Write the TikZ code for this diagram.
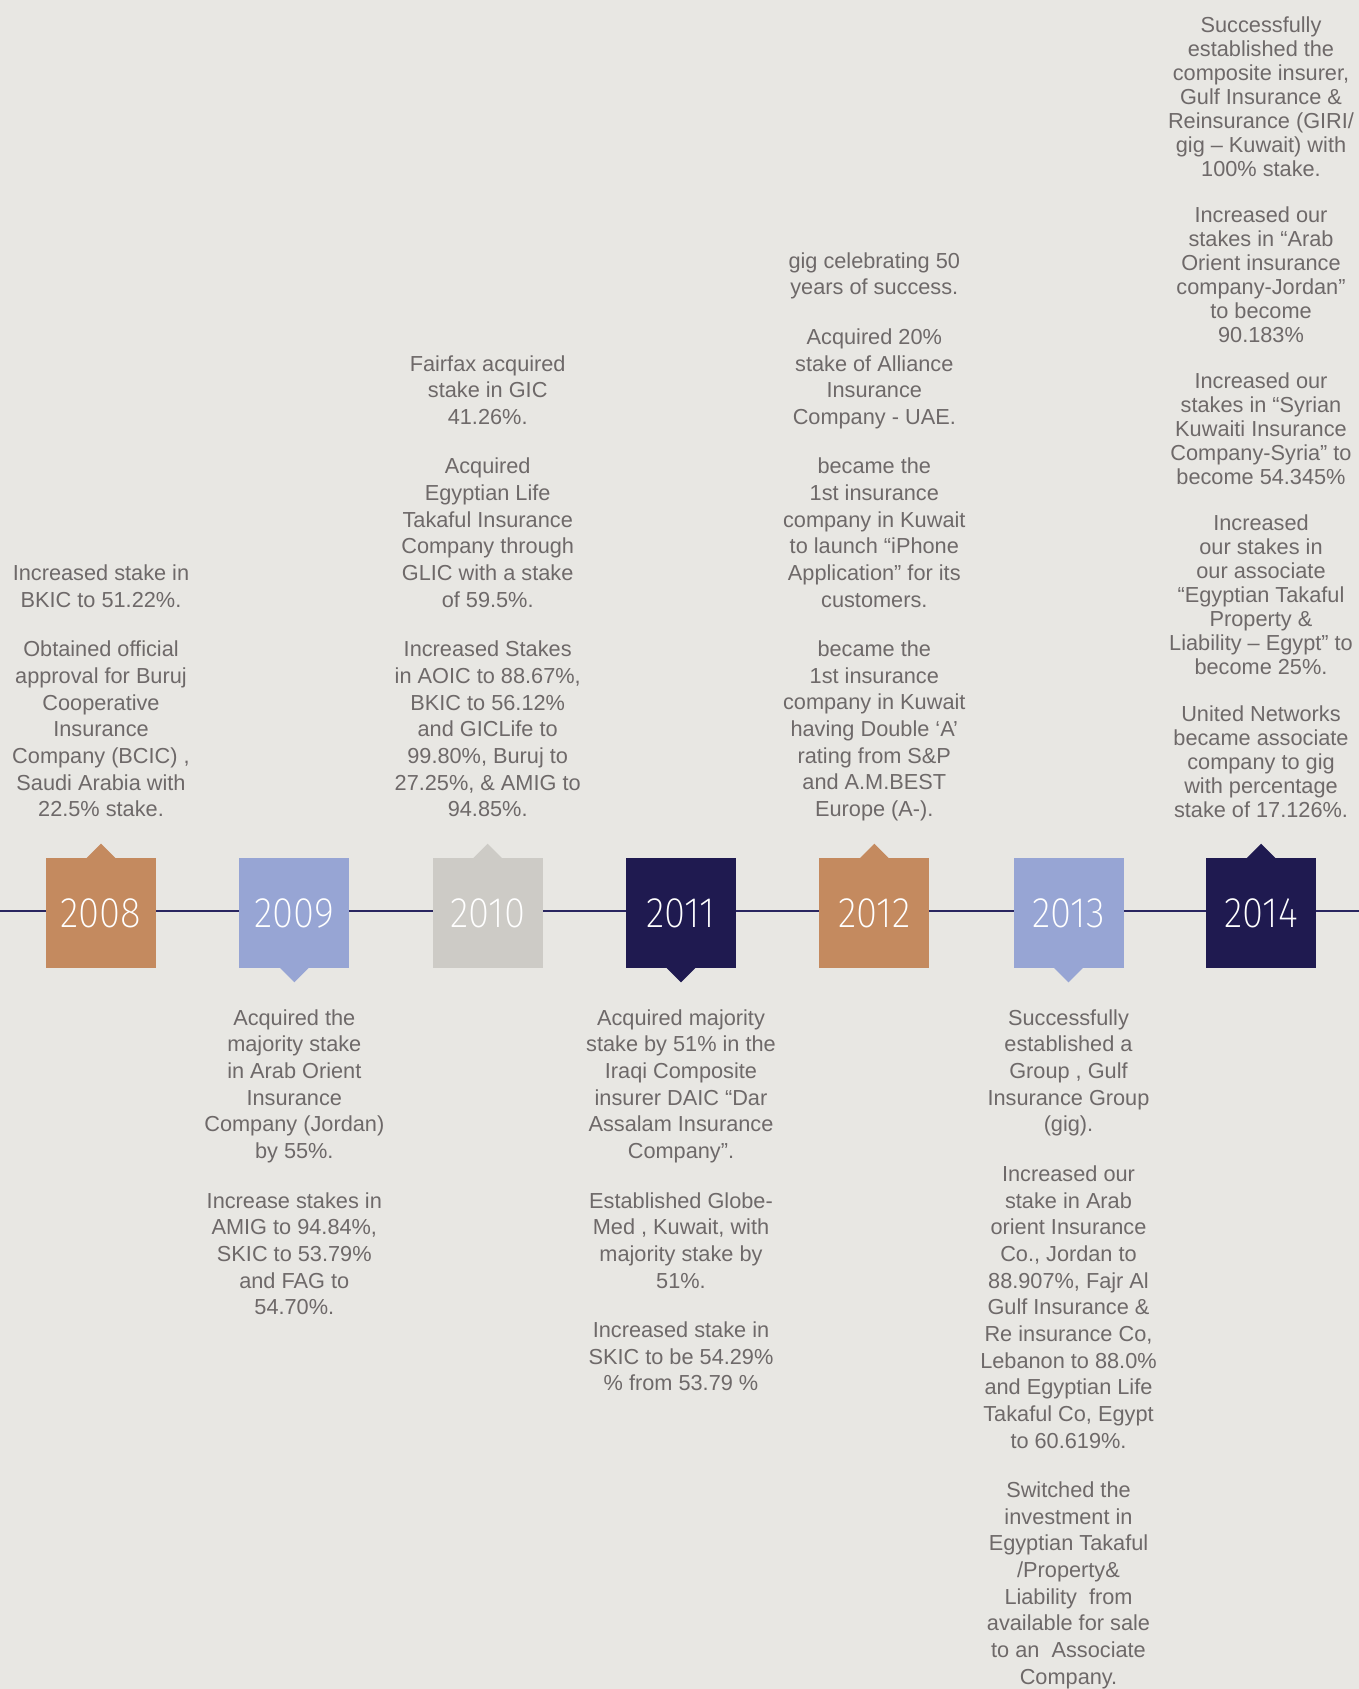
\documentclass[tikz,border=0pt]{standalone}
\usepackage{fontspec}
\setmainfont{Liberation Sans}
\newfontfamily\yearfont{Fira Sans ExtraLight}
\usepackage{graphicx}
\definecolor{bg}{RGB}{232,231,227}
\definecolor{tanc}{RGB}{196,138,95}
\definecolor{lavc}{RGB}{151,165,212}
\definecolor{stonec}{RGB}{205,203,198}
\definecolor{navyc}{RGB}{31,26,80}
\definecolor{linec}{RGB}{42,38,96}
\definecolor{txtc}{RGB}{110,105,105}
\begin{document}
\begin{tikzpicture}[x=0.75pt,y=-0.75pt,
  yearbox/.style={minimum width=82.5pt,minimum height=82.5pt,inner sep=0pt,text=white,
    font=\yearfont\fontsize{32}{32}\selectfont},
  desc/.style={inner sep=0pt,align=center,text=txtc,font=\fontsize{16.3}{20}\selectfont},
  desctight/.style={inner sep=0pt,align=center,text=txtc,font=\fontsize{16.3}{18}\selectfont}]
\fill[bg] (0,0) rectangle (1359,1689);
\useasboundingbox (0,0) rectangle (1359,1689);

\coordinate (L) at (0,911);
\coordinate (R) at (1359,911);
\draw[linec,line width=2.2pt] (L) -- (R);

\newcommand{\yr}[1]{\scalebox{0.9}[1]{#1}}
\node[yearbox,fill=tanc]   (y08) at (101,913)    {\yr{2008}};
\node[yearbox,fill=lavc]   (y09) at (294.3,913)  {\yr{2009}};
\node[yearbox,fill=stonec] (y10) at (487.7,913)  {\yr{2010}};
\node[yearbox,fill=navyc]  (y11) at (681,913)    {\yr{2011}};
\node[yearbox,fill=tanc]   (y12) at (874.3,913)  {\yr{2012}};
\node[yearbox,fill=lavc]   (y13) at (1068.5,913) {\yr{2013}};
\node[yearbox,fill=navyc]  (y14) at (1261,913)   {\yr{2014}};

% pointers up
\fill[tanc]   (y08.north) ++(-14.5,0.5) -- ++(14.5,-14.5) -- ++(14.5,14.5) -- cycle;
\fill[stonec] (y10.north) ++(-14.5,0.5) -- ++(14.5,-14.5) -- ++(14.5,14.5) -- cycle;
\fill[tanc]   (y12.north) ++(-14.5,0.5) -- ++(14.5,-14.5) -- ++(14.5,14.5) -- cycle;
\fill[navyc]  (y14.north) ++(-14.5,0.5) -- ++(14.5,-14.5) -- ++(14.5,14.5) -- cycle;
% pointers down
\fill[lavc]   (y09.south) ++(-14.5,-0.5) -- ++(14.5,14.5) -- ++(14.5,-14.5) -- cycle;
\fill[navyc]  (y11.south) ++(-14.5,-0.5) -- ++(14.5,14.5) -- ++(14.5,-14.5) -- cycle;
\fill[lavc]   (y13.south) ++(-14.5,-0.5) -- ++(14.5,14.5) -- ++(14.5,-14.5) -- cycle;

% texts above
\node[desc,anchor=north] (t08) at (101,561.9) {\strut Increased stake in\\BKIC to 51.22\%.\\[17.1pt]
Obtained official\\approval for Buruj\\Cooperative\\Insurance\\Company (BCIC) ,\\Saudi Arabia with\\22.5\% stake.};

\node[desc,anchor=north] (t10) at (487.7,352.2) {\strut Fairfax acquired\\stake in GIC\\41.26\%.\\[17.1pt]
Acquired\\Egyptian Life\\Takaful Insurance\\Company through\\GLIC with a stake\\of 59.5\%.\\[17.1pt]
Increased Stakes\\in AOIC to 88.67\%,\\BKIC to 56.12\%\\and GICLife to\\99.80\%, Buruj to\\27.25\%, \& AMIG to\\94.85\%.};

\node[desc,anchor=north] (t12) at (874.3,249.3) {\strut gig celebrating 50\\years of success.\\[17.1pt]
Acquired 20\%\\stake of Alliance\\Insurance\\Company - UAE.\\[17.1pt]
became the\\1st insurance\\company in Kuwait\\to launch “iPhone\\Application” for its\\customers.\\[17.1pt]
became the\\1st insurance\\company in Kuwait\\having Double ‘A’\\rating from S\&P\\and A.M.BEST\\Europe (A-).};

\node[desctight,anchor=north] (t14) at (1261,15.0) {\strut Successfully\\established the\\composite insurer,\\Gulf Insurance \&\\Reinsurance (GIRI/\\gig – Kuwait) with\\100\% stake.\\[16.7pt]
Increased our\\stakes in “Arab\\Orient insurance\\company-Jordan”\\to become\\90.183\%\\[16.7pt]
Increased our\\stakes in “Syrian\\Kuwaiti Insurance\\Company-Syria” to\\become 54.345\%\\[16.7pt]
Increased\\our stakes in\\our associate\\“Egyptian Takaful\\Property \&\\Liability – Egypt” to\\become 25\%.\\[16.7pt]
United Networks\\became associate\\company to gig\\with percentage\\stake of 17.126\%.};

% texts below
\node[desc,anchor=north] (t09) at (294.3,1006.3) {\strut Acquired the\\majority stake\\in Arab Orient\\Insurance\\Company (Jordan)\\by 55\%.\\[17.1pt]
Increase stakes in\\AMIG to 94.84\%,\\SKIC to 53.79\%\\and FAG to\\54.70\%.};

\node[desc,anchor=north] (t11) at (681,1006.3) {\strut Acquired majority\\stake by 51\% in the\\Iraqi Composite\\insurer DAIC “Dar\\Assalam Insurance\\Company”.\\[17.1pt]
Established Globe-\\Med , Kuwait, with\\majority stake by\\51\%.\\[17.1pt]
Increased stake in\\SKIC to be 54.29\%\\\% from 53.79 \%};

\node[desc,anchor=north] (t13) at (1068.5,1006.3) {\strut Successfully\\established a\\Group , Gulf\\Insurance Group\\(gig).\\[17.1pt]
Increased our\\stake in Arab\\orient Insurance\\Co., Jordan to\\88.907\%, Fajr Al\\Gulf Insurance \&\\Re insurance Co,\\Lebanon to 88.0\%\\and Egyptian Life\\Takaful Co, Egypt\\to 60.619\%.\\[17.1pt]
Switched the\\investment in\\Egyptian Takaful\\/Property\&\\Liability\ \ from\\available for sale\\to an\ \ Associate\\Company.};
\end{tikzpicture}
\end{document}
